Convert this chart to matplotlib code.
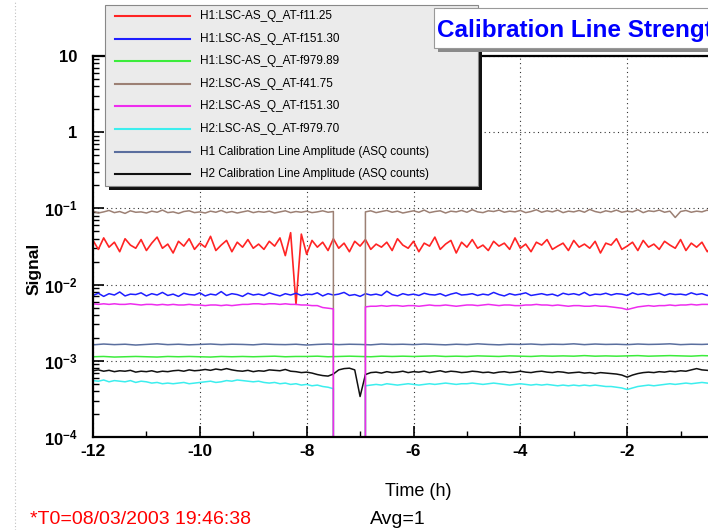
import numpy as np
import matplotlib
matplotlib.use("Agg")
import matplotlib.pyplot as plt
from matplotlib.patches import Rectangle
from matplotlib.lines import Line2D
from matplotlib.ticker import LogLocator, NullFormatter

plt.rcParams['font.family'] = ['Liberation Sans', 'DejaVu Sans']
plt.rcParams['mathtext.fontset'] = 'custom'
plt.rcParams['mathtext.rm'] = 'Liberation Sans:bold'
plt.rcParams['mathtext.bf'] = 'Liberation Sans:bold'
plt.rcParams['mathtext.it'] = 'Liberation Sans:bold'

# sample times, hours before T0
T_FINE = np.round(np.arange(-12, 0.05, 0.1), 1)     # 121 samples
T_COARSE = np.round(np.arange(-12, 0.05, 0.2), 1)   # 61 samples

# H1 line at ~25 Hz (x 1e-3)
H1_LOW = [38, 29, 41, 31, 36, 27, 40, 33, 30, 39,
          28, 35, 42, 30, 34, 26, 37, 32, 40, 29,
          35, 31, 43, 28, 33, 38, 27, 36, 31, 39,
          30, 34, 29, 37, 32, 41, 24, 48, 5.5, 46,
          25, 38, 31, 36, 28, 40, 30, 35, 27, 37,
          32, 39, 29, 34, 31, 36, 28, 40, 33, 30,
          37, 27, 35, 32, 42, 29, 34, 38, 26, 36,
          31, 39, 30, 33, 28, 37, 32, 35, 29, 41,
          30, 34, 27, 36, 33, 39, 29, 32, 35, 28,
          38, 31, 34, 30, 37, 26, 35, 33, 40, 29,
          32, 36, 28, 38, 31, 34, 29, 37, 33, 30,
          39, 28, 35, 31, 36, 27, 33, 38, 30, 35, 32]

# H1 151 Hz line (x 1e-3)
H1_MID = [7.2, 7.7, 7.0, 7.6, 7.3, 8.0, 7.1, 7.5, 7.4, 7.8,
          7.1, 7.6, 7.3, 7.9, 7.2, 7.5, 7.0, 7.7, 7.4, 7.3,
          7.8, 7.1, 7.5, 7.3, 8.1, 7.2, 7.6, 7.4, 7.0, 7.7,
          7.3, 7.5, 7.2, 7.8, 7.4, 7.1, 7.6, 7.3, 7.7, 7.2,
          7.5, 7.4, 7.8, 7.1, 7.6, 7.3, 7.5, 7.9, 7.2, 7.4,
          7.0, 7.6, 7.3, 7.5, 7.2, 8.2, 7.4, 7.1, 7.6, 7.3,
          7.5, 7.2, 7.7, 7.4, 7.3, 7.6, 7.1, 7.5, 7.8, 7.3,
          7.4, 7.6, 7.2, 7.5, 7.3, 7.9, 7.4, 7.1, 7.6, 7.3,
          7.5, 7.8, 7.2, 7.4, 7.6, 7.3, 7.5, 7.1, 7.7, 7.4,
          7.6, 7.3, 7.9, 7.2, 7.5, 7.4, 7.7, 7.3, 7.6, 7.5,
          7.2, 7.8, 7.4, 7.6, 7.3, 7.5, 7.7, 7.2, 7.6, 7.4,
          7.5, 7.3, 7.8, 7.4, 7.6, 7.2, 7.5, 7.7, 7.3, 7.6, 7.4]

# H1 979 Hz line (x 1e-3), coarse samples
H1_HIGH = [1.13, 1.14, 1.12, 1.13, 1.14, 1.13, 1.12, 1.14, 1.13, 1.14,
           1.13, 1.12, 1.14, 1.13, 1.14, 1.13, 1.14, 1.15, 1.13, 1.14,
           1.14, 1.15, 1.13, 1.14, 1.15, 1.14, 1.13, 1.15, 1.14, 1.15,
           1.14, 1.15, 1.16, 1.14, 1.15, 1.14, 1.16, 1.15, 1.14, 1.16,
           1.15, 1.14, 1.16, 1.15, 1.16, 1.15, 1.17, 1.15, 1.16, 1.15,
           1.16, 1.17, 1.15, 1.16, 1.17, 1.16, 1.15, 1.17, 1.16, 1.17, 1.16]

# H2 low line (x 1e-2), 0 = lock lost
H2_LOW = [9.2, 8.7, 9.0, 9.4, 8.8, 9.1, 8.6, 9.3, 8.9, 9.0,
          8.7, 9.2, 8.9, 9.5, 8.8, 9.0, 8.6, 9.1, 9.3, 8.8,
          9.0, 8.7, 9.2, 8.9, 9.4, 8.8, 9.1, 8.7, 9.0, 9.3,
          8.8, 9.1, 8.9, 9.2, 8.7, 9.0, 9.3, 8.8, 9.1, 8.9,
          9.2, 8.8, 9.0, 9.3, 8.9, 9.1, 0, 0, 0, 0,
          0, 9.0, 9.3, 8.8, 9.1, 9.4, 8.9, 9.2, 8.7, 9.0,
          9.3, 8.9, 9.5, 8.8, 9.1, 9.3, 8.7, 9.2, 9.0, 9.4,
          8.9, 9.6, 9.0, 8.8, 9.3, 9.1, 9.5, 8.9, 9.2, 9.0,
          9.4, 8.8, 9.1, 9.6, 8.9, 9.3, 9.0, 9.5, 8.8, 9.2,
          9.0, 9.4, 8.9, 9.7, 9.1, 8.8, 9.3, 9.0, 9.5, 8.9,
          9.2, 9.0, 9.6, 8.8, 9.3, 9.1, 9.5, 8.9, 9.2, 7.6,
          9.1, 9.4, 8.9, 9.2, 9.0, 9.5, 8.8, 9.3, 9.1, 8.9, 9.2]

# H2 151 Hz line (x 1e-3)
H2_MID = [5.6, 5.5, 5.6, 5.5, 5.6, 5.5, 5.5, 5.6, 5.5, 5.4,
          5.5, 5.5, 5.4, 5.5, 5.4, 5.5, 5.4, 5.4, 5.5, 5.4,
          5.4, 5.3, 5.4, 5.4, 5.3, 5.4, 5.3, 5.4, 5.5, 5.5,
          5.6, 5.6, 5.5, 5.6, 5.6, 5.5, 5.6, 5.5, 5.5, 5.4,
          5.4, 5.3, 5.3, 5.0, 4.9, 4.8, 0, 0, 0, 0,
          0, 5.1, 5.2, 5.2, 5.3, 5.2, 5.3, 5.3, 5.2, 5.3,
          5.3, 5.2, 5.3, 5.4, 5.3, 5.3, 5.4, 5.3, 5.2, 5.3,
          5.4, 5.4, 5.3, 5.4, 5.5, 5.4, 5.3, 5.4, 5.4, 5.3,
          5.3, 5.4, 5.4, 5.5, 5.4, 5.4, 5.3, 5.4, 5.3, 5.2,
          5.3, 5.3, 5.2, 5.2, 5.3, 5.2, 5.2, 5.1, 5.0, 4.9,
          4.7, 4.9, 5.1, 5.2, 5.3, 5.2, 5.3, 5.3, 5.4, 5.3,
          5.4, 5.4, 5.5, 5.4, 5.5, 5.5, 5.4, 5.5, 5.5, 5.4, 5.5]

# H2 979 Hz line (x 1e-4)
H2_HIGH = [5.5, 5.4, 5.6, 5.3, 5.5, 5.4, 5.3, 5.5, 5.2, 5.4,
           5.3, 5.1, 5.2, 5.0, 5.1, 5.0, 5.1, 5.2, 5.0, 5.1,
           5.2, 5.3, 5.4, 5.2, 5.3, 5.5, 5.4, 5.6, 5.5, 5.4,
           5.3, 5.4, 5.2, 5.1, 5.2, 5.0, 5.1, 4.9, 5.0, 4.8,
           4.9, 4.7, 4.8, 4.6, 4.5, 4.3, 0, 0, 0, 0,
           0, 4.7, 4.8, 4.9, 4.8, 5.0, 4.9, 4.8, 4.9, 5.0,
           4.9, 4.8, 4.9, 5.0, 4.9, 5.0, 5.1, 5.0, 4.9, 5.0,
           5.0, 5.1, 5.0, 4.9, 5.0, 5.1, 5.0, 4.9, 4.8, 4.9,
           5.0, 4.9, 4.8, 4.9, 4.8, 4.9, 4.8, 4.7, 4.8, 4.7,
           4.8, 4.7, 4.8, 4.7, 4.8, 4.7, 4.6, 4.6, 4.5, 4.4,
           4.2, 4.4, 4.6, 4.7, 4.8, 4.7, 4.8, 4.9, 5.0, 4.9,
           5.0, 5.1, 5.0, 5.1, 5.2, 5.1, 5.0, 5.1, 5.2, 5.1, 5.0]

# calibration line amplitudes in ASQ counts
H1_CAL = [1.62, 1.66, 1.63, 1.65, 1.61, 1.64, 1.67, 1.63, 1.65, 1.62,
          1.64, 1.66, 1.63, 1.65, 1.64, 1.62, 1.66, 1.64, 1.63, 1.65,
          1.61, 1.64, 1.66, 1.63, 1.65, 1.64, 1.62, 1.66, 1.64, 1.65,
          1.63, 1.66, 1.64, 1.62, 1.65, 1.63, 1.67, 1.64, 1.62, 1.65,
          1.64, 1.66, 1.63, 1.65, 1.64, 1.67, 1.63, 1.66, 1.64, 1.65,
          1.63, 1.66, 1.64, 1.65, 1.67, 1.63, 1.65, 1.64, 1.66, 1.64, 1.65]  # x 1e-3, coarse

H2_CAL = [7.4, 7.6, 7.3, 7.5, 7.2, 7.4, 7.3, 7.5, 7.1, 7.3,
          7.2, 7.4, 7.1, 7.3, 7.2, 7.4, 7.5, 7.3, 7.6, 7.4,
          7.5, 7.7, 7.5, 7.8, 7.6, 7.9, 7.6, 7.4, 7.3, 7.5,
          7.2, 7.4, 7.3, 7.6, 7.5, 7.4, 7.7, 7.3, 7.2, 7.0,
          7.1, 6.9, 6.6, 6.4, 6.3, 6.7, 7.6, 7.9, 8.0, 7.6,
          3.4, 6.6, 7.0, 7.1, 6.9, 7.2, 7.0, 7.1, 7.3, 7.0,
          7.2, 7.1, 7.3, 7.0, 7.2, 7.4, 7.1, 7.3, 7.2, 7.0,
          7.1, 7.3, 7.2, 7.0, 7.1, 6.9, 7.1, 7.2, 7.0, 7.1,
          7.3, 7.1, 7.0, 7.2, 7.3, 7.1, 7.0, 7.2, 7.1, 6.9,
          7.0, 7.1, 6.9, 7.0, 6.8, 7.0, 6.9, 6.8, 6.7, 6.5,
          6.1, 6.5, 6.8, 7.0, 7.1, 7.0, 7.2, 7.1, 7.3, 7.2,
          7.4, 7.3, 7.6, 7.9, 7.6, 7.5, 7.3, 7.4, 7.2, 7.3, 7.2]  # x 1e-4

LABELS = ["H1:LSC-AS_Q_AT-f11.25",
          "H1:LSC-AS_Q_AT-f151.30",
          "H1:LSC-AS_Q_AT-f979.89",
          "H2:LSC-AS_Q_AT-f41.75",
          "H2:LSC-AS_Q_AT-f151.30",
          "H2:LSC-AS_Q_AT-f979.70",
          "H1 Calibration Line Amplitude (ASQ counts)",
          "H2 Calibration Line Amplitude (ASQ counts)"]
COLORS = ['#ff2424', '#1e1eff', '#3cec3c', '#9c8074',
          '#ee2cee', '#3ceeee', '#5a6e9e', '#111111']
# drawing order: magenta lock-loss edges sit on top of the others
ZORDERS = [2, 2, 2, 2.2, 2.4, 2.1, 2, 2.3]

X_TICKS = [-12, -10, -8, -6, -4, -2]
X_TICK_LABELS = ["-12", "-10", "-8", "-6", "-4", "-2"]
Y_TICKS = [1e-4, 1e-3, 1e-2, 1e-1, 1, 10]
Y_TICK_LABELS = [r"$10^{-4}$", r"$10^{-3}$", r"$10^{-2}$", r"$10^{-1}$", "1", "10"]

W, H = 708, 530


def fx(px):
    return px / W


def fy(py):
    return 1 - py / H


series = [(T_FINE, np.array(H1_LOW) * 1e-3),
          (T_FINE, np.array(H1_MID) * 1e-3),
          (T_COARSE, np.array(H1_HIGH) * 1e-3),
          (T_FINE, np.array(H2_LOW) * 1e-2),
          (T_FINE, np.array(H2_MID) * 1e-3),
          (T_FINE, np.array(H2_HIGH) * 1e-4),
          (T_COARSE, np.array(H1_CAL) * 1e-3),
          (T_FINE, np.array(H2_CAL) * 1e-4)]

fig = plt.figure(figsize=(W / 100, H / 100), dpi=100)
ax = fig.add_axes([fx(93), fy(437), (734 - 93) / W, (437 - 56) / H])
ax.set_yscale('log')

for (t, v), c, z in zip(series, COLORS, ZORDERS):
    ax.plot(t, v, color=c, lw=1.2 if c == '#ff2424' else 1.1, zorder=z)

ax.set_xlim(-12, 0)
ax.set_ylim(1e-4, 10)

ax.set_xticks(X_TICKS)
ax.set_xticklabels(X_TICK_LABELS, fontweight='bold', fontsize=12.5)
ax.set_xticks([-11, -9, -7, -5, -3, -1], minor=True)
ax.set_yticks(Y_TICKS)
ax.set_yticklabels(Y_TICK_LABELS, fontweight='bold', fontsize=12)
ax.yaxis.set_minor_locator(LogLocator(base=10, subs=np.arange(2, 10)))
ax.yaxis.set_minor_formatter(NullFormatter())
ax.tick_params(which='major', direction='in', length=8, width=1.2)
ax.tick_params(axis='y', which='major', pad=11)
ax.tick_params(axis='x', which='major', pad=5)
ax.tick_params(which='minor', direction='in', length=4, width=1)
ax.grid(True, which='major', color='#333333', linestyle=(0, (1, 3)), lw=0.8)
for s in ax.spines.values():
    s.set_linewidth(1.6)

ax.set_ylabel("Signal", fontsize=12.5, fontweight='bold')
ax.yaxis.set_label_coords(-0.08, 0.44)
ax.set_xlabel("Time (h)", fontsize=13)
ax.xaxis.set_label_coords(0.507, -0.12)

# outer dotted frame on the left
fig.add_artist(Line2D([fx(15), fx(15)], [0, 1], transform=fig.transFigure,
                      color='#c0c0c0', lw=0.8, linestyle=(0, (1, 2))))

# legend box with shadow
fig.add_artist(Rectangle((fx(109), fy(190)), fx(478) - fx(105), fy(5) - fy(186),
                         transform=fig.transFigure, facecolor='#111111',
                         edgecolor='none', zorder=4))
fig.add_artist(Rectangle((fx(105), fy(186)), fx(478) - fx(105), fy(5) - fy(186),
                         transform=fig.transFigure, facecolor='#ebebeb',
                         edgecolor='#888888', lw=0.8, zorder=5))
for i, (lab, c) in enumerate(zip(LABELS, COLORS)):
    yy = fy(16 + 22.6 * i)
    fig.add_artist(Line2D([fx(115), fx(190)], [yy, yy], transform=fig.transFigure,
                          color=c, lw=1.5, zorder=6))
    fig.text(fx(200), yy, lab, fontsize=8.5, va='center', ha='left', zorder=6)

# title box, runs off the right edge like the original canvas
fig.add_artist(Rectangle((fx(438), fy(52)), fx(300), fy(8) - fy(48),
                         transform=fig.transFigure, facecolor='#8a8a8a',
                         edgecolor='none', zorder=7))
fig.add_artist(Rectangle((fx(434), fy(48)), fx(300), fy(8) - fy(48),
                         transform=fig.transFigure, facecolor='white',
                         edgecolor='#999999', lw=0.8, zorder=8))
fig.text(fx(437), fy(30), "Calibration Line Strength", color='#0000ff',
         fontsize=17.5, fontweight='bold', va='center', ha='left', zorder=9)

fig.text(fx(30), fy(520), "*T0=08/03/2003 19:46:38", color='#ff0000',
         fontsize=14, va='center', ha='left')
fig.text(fx(370), fy(520), "Avg=1", color='black', fontsize=14,
         va='center', ha='left')

fig.savefig("out.png", dpi=100)
